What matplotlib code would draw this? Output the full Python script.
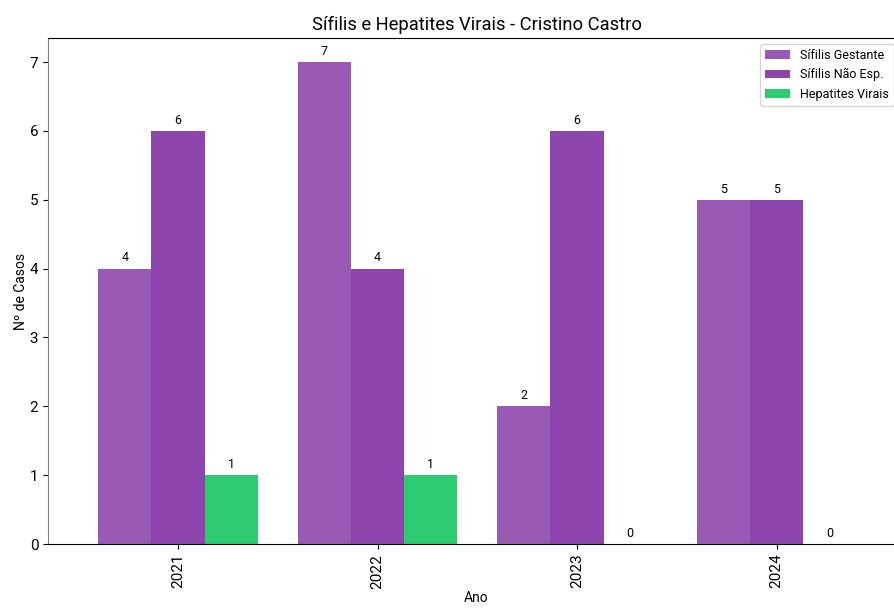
import numpy as np
import matplotlib
matplotlib.use("Agg")
import matplotlib.pyplot as plt

plt.rcParams["font.family"] = ["Roboto", "DejaVu Sans"]

anos = ["2021", "2022", "2023", "2024"]
sifilis_gestante = [4, 7, 2, 5]
sifilis_nao_esp = [6, 4, 6, 5]
hepatites_virais = [1, 1, 0, 0]

series = [
    ("Sífilis Gestante", sifilis_gestante, "#9b59b6"),
    ("Sífilis Não Esp.", sifilis_nao_esp, "#8e44ad"),
    ("Hepatites Virais", hepatites_virais, "#2ecc71"),
]

fig = plt.figure(figsize=(8.94, 6.12), dpi=100)
ax = fig.add_axes([48 / 894, 1 - 544 / 612, (905 - 48) / 894, (544 - 38) / 612])

x = np.arange(len(anos))
width = 0.8 / 3

for i, (nome, valores, cor) in enumerate(series):
    barras = ax.bar(x + (i - 1) * width, valores, width, label=nome, color=cor)
    ax.bar_label(barras, padding=3, fontsize=9)

ax.set_xticks(x)
ax.set_xticklabels(anos, rotation=90, fontsize=11)
ax.tick_params(axis="y", labelsize=11)
ax.set_xlim(-0.652, 3.644)
ax.set_ylim(0, 7.35)
ax.set_xlabel("Ano", fontsize=10, labelpad=2)
ax.set_ylabel("Nº de Casos", fontsize=10, labelpad=1)
ax.set_title("Sífilis e Hepatites Virais - Cristino Castro", fontsize=13.2)
ax.spines["left"].set_color("gray")
ax.spines["right"].set_visible(False)

ax.legend(loc="upper right", bbox_to_anchor=(1.0, 1 - 44 / 612),
          bbox_transform=fig.transFigure, borderaxespad=0, fontsize=9)

fig.savefig("out.png", dpi=100)
